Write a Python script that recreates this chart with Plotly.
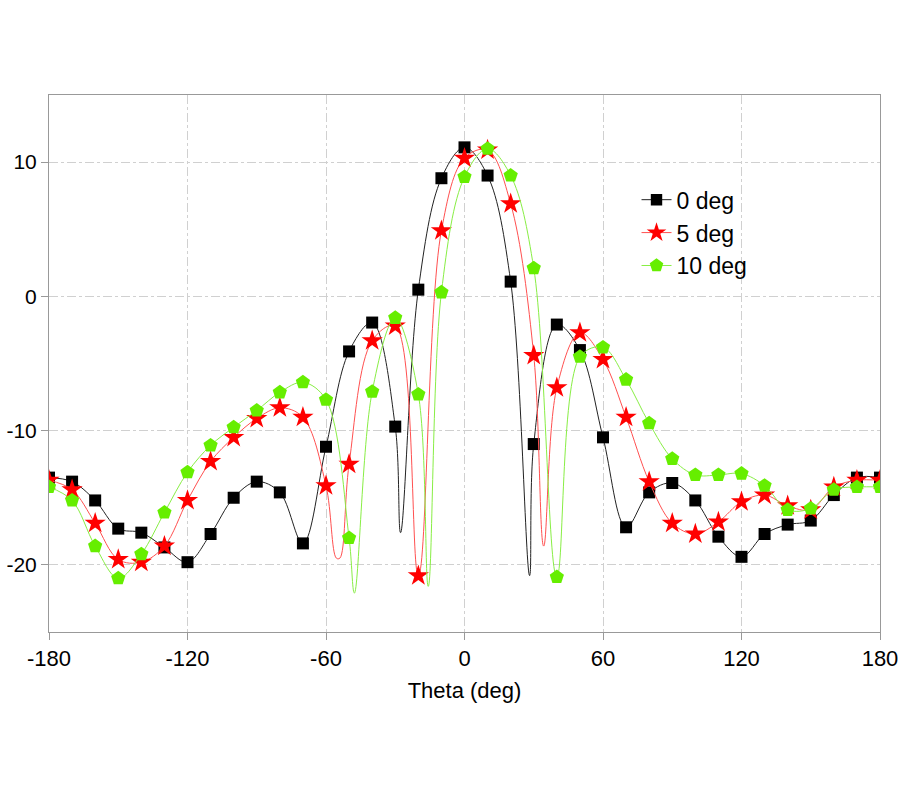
import plotly.graph_objects as go

theta = list(range(-180, 181, 10))

# marker values (dB)
gain_0 = [-13.5, -13.8, -15.2, -17.3, -17.6, -18.7, -19.8, -17.7, -15.0, -13.8,
          -14.6, -18.4, -11.2, -4.1, -1.95, -9.7, 0.5, 8.8, 11.1, 9.0,
          1.1, -11.0, -2.1, -4.0, -10.5, -17.2, -14.6, -13.9, -15.2, -17.9,
          -19.4, -17.7, -17.0, -16.7, -14.8, -13.5, -13.5]
gain_5 = [-13.7, -14.4, -16.9, -19.6, -19.8, -18.6, -15.2, -12.3, -10.5, -9.1,
          -8.3, -9.0, -14.1, -12.5, -3.3, -2.2, -20.8, 4.9, 10.3, 10.9,
          6.9, -4.4, -6.8, -2.7, -4.7, -9.0, -13.8, -16.9, -17.7, -16.8,
          -15.3, -14.8, -15.6, -15.9, -14.2, -13.7, -13.7]
gain_10 = [-14.2, -15.2, -18.6, -21.0, -19.2, -16.1, -13.1, -11.1, -9.75, -8.5,
           -7.15, -6.4, -7.7, -18.0, -7.1, -1.6, -7.3, 0.3, 8.9, 11.0,
           9.0, 2.1, -20.9, -4.5, -3.8, -6.2, -9.45, -12.1, -13.3, -13.3,
           -13.2, -14.1, -15.9, -15.8, -14.4, -14.2, -14.2]

# nulls of the curves that fall between markers
null_theta_0 = [-27.7, 28.2]
null_gain_0 = [-17.6, -20.8]
null_theta_5 = [-55.5, -54.0, 34.3]
null_gain_5 = [-19.5, -19.5, -18.6]
null_theta_10 = [-47.7, -15.7]
null_gain_10 = [-22.1, -21.6]

names = ["0 deg", "5 deg", "10 deg"]
colors = ["#000000", "#ff0000", "#66ee00"]
line_colors = ["#222222", "#ff5050", "#88ee44"]
symbols = ["square", "star", "pentagon"]
sizes = [12, 16, 15]


def merge(xs, ys, nx, ny, size):
    pts = [(x, y, size) for x, y in zip(xs, ys)] + [(x, y, 0) for x, y in zip(nx, ny)]
    pts.sort()
    return [p[0] for p in pts], [p[1] for p in pts], [p[2] for p in pts]


series = [(gain_0, null_theta_0, null_gain_0),
          (gain_5, null_theta_5, null_gain_5),
          (gain_10, null_theta_10, null_gain_10)]

fig = go.Figure()
for i, (g, nx, ny) in enumerate(series):
    x, y, s = merge(theta, g, nx, ny, sizes[i])
    fig.add_trace(go.Scatter(
        x=x, y=y, name=names[i], mode="lines+markers",
        line=dict(color=line_colors[i], width=1, shape="spline", smoothing=1),
        marker=dict(symbol=symbols[i], size=s, color=colors[i], opacity=1,
                    line=dict(width=0)),
    ))

ticks_x = [-180, -120, -60, 0, 60, 120, 180]
ticks_y = [-20, -10, 0, 10]

fig.update_layout(
    width=900, height=800,
    margin=dict(l=49, r=20, t=95, b=168),
    paper_bgcolor="white", plot_bgcolor="white",
    font=dict(family="Liberation Sans, Arial", size=22, color="black"),
    legend=dict(x=0.707, y=0.845, xanchor="left", yanchor="top",
                bgcolor="rgba(0,0,0,0)", font=dict(size=23),
                tracegroupgap=0, itemsizing="trace"),
    xaxis=dict(
        range=[-180, 180], tickvals=ticks_x, ticktext=[str(t) for t in ticks_x],
        title=dict(text="Theta (deg)", standoff=12, font=dict(size=22)),
        automargin=False,
        showgrid=True, gridcolor="#d0d0d0", griddash="dashdot", gridwidth=1,
        showline=True, linecolor="#999999", linewidth=1, mirror=True,
        ticks="outside", ticklen=7, tickcolor="#999999", zeroline=False,
    ),
    yaxis=dict(
        range=[-25, 15], tickvals=ticks_y, ticktext=[str(t) for t in ticks_y],
        tickfont=dict(size=21), automargin=False,
        showgrid=True, gridcolor="#d0d0d0", griddash="dashdot", gridwidth=1,
        showline=True, linecolor="#999999", linewidth=1, mirror=True,
        ticks="outside", ticklen=7, tickcolor="#999999", zeroline=False,
    ),
)

# drop the page's default body margin so the figure sits at the window corner
fig.write_html("out.html", config={"displayModeBar": False},
               post_script="document.body.style.margin = '0';")
